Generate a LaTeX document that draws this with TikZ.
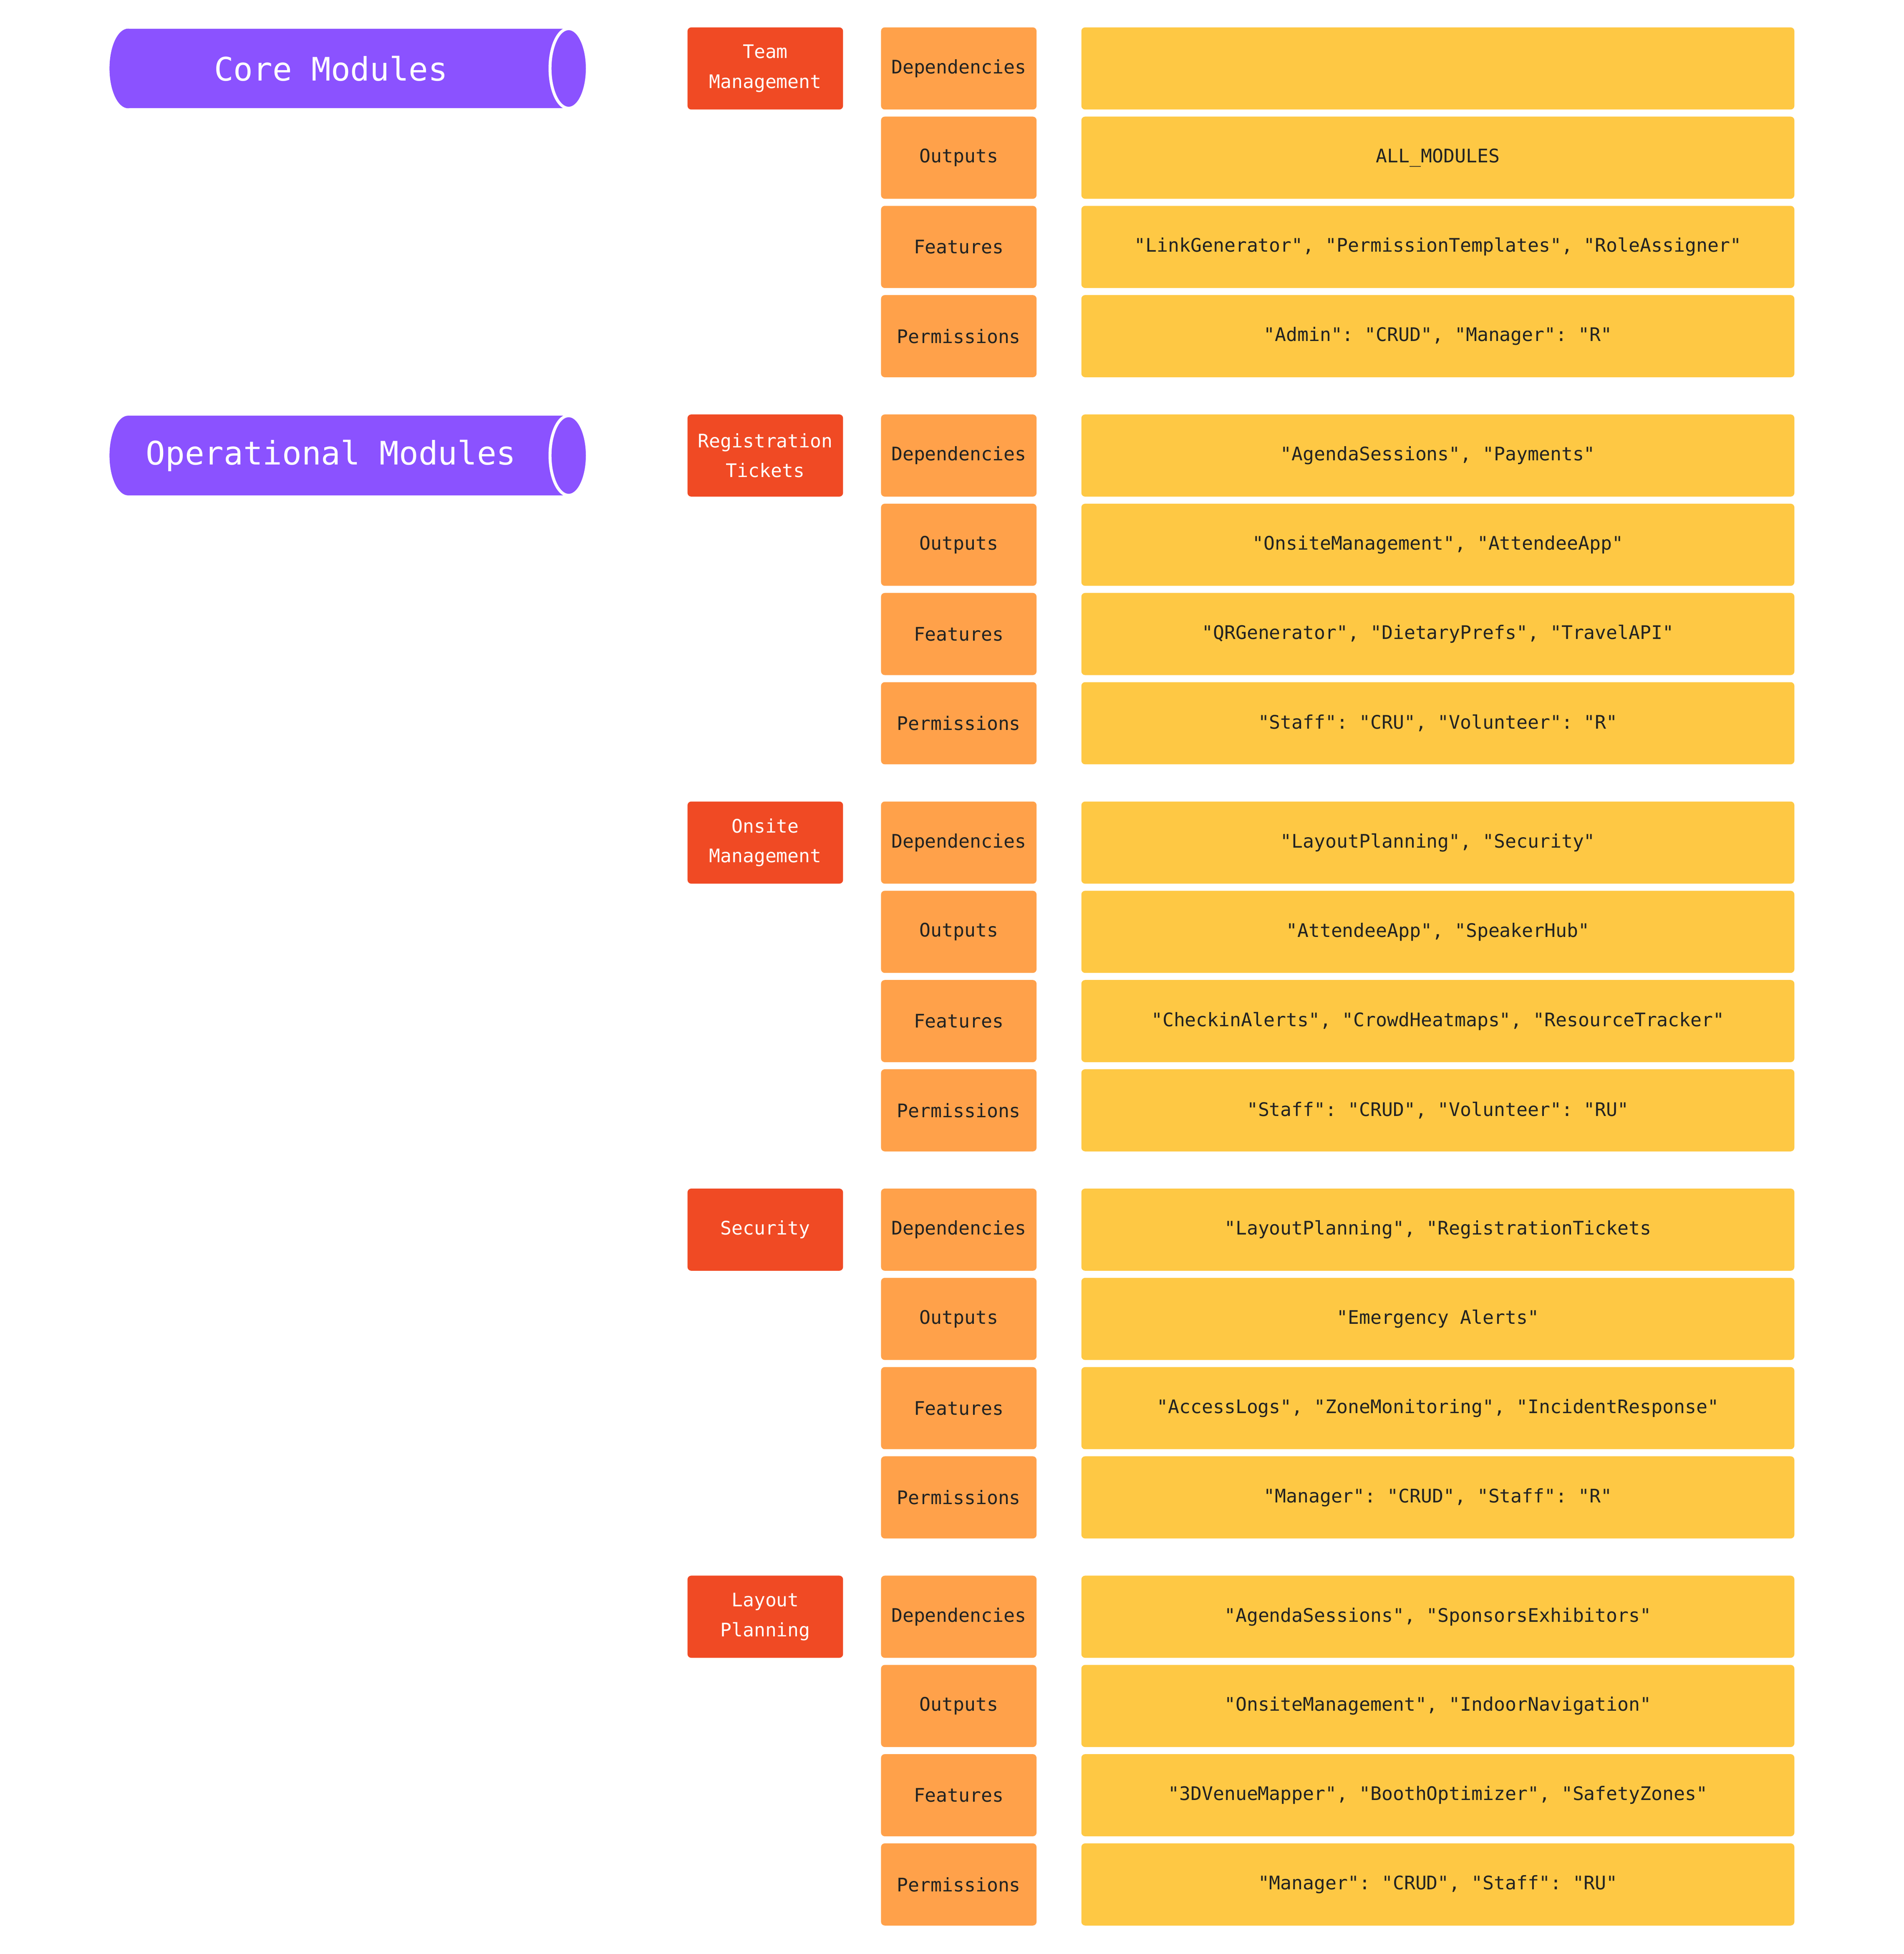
\documentclass[tikz,border=0pt]{standalone}
\usepackage{fontspec}
\setmonofont{DejaVu Sans Mono}
\begin{document}
\definecolor{purp}{HTML}{8B52FF}
\definecolor{redb}{HTML}{F04A24}
\definecolor{orab}{HTML}{FFA14A}
\definecolor{yelb}{HTML}{FEC844}
\definecolor{txt}{HTML}{222222}
\begin{tikzpicture}[x=0.5pt,y=-0.5pt,
 box/.style={rounded corners=1.5pt,inner sep=0pt,font=\ttfamily\fontsize{7.5}{12}\selectfont,align=center},
 mod/.style={box,fill=redb,text=white,minimum width=62.5pt,minimum height=33pt},
 key/.style={box,fill=orab,text=txt,minimum width=62.5pt,minimum height=33pt},
 val/.style={box,fill=yelb,text=txt,minimum width=286.5pt,minimum height=33pt}]
\useasboundingbox (0,0) rectangle (1530,1570);
% cylinders
\foreach \n/\y/\t in {core/55/Core Modules, oper/366/Operational Modules}{
 \fill[purp] (103,\y-32) rectangle (457,\y+32);
 \fill[purp] (103,\y) ellipse[x radius=7.5pt,y radius=16pt];
 \draw[white,line width=1.2pt,fill=purp] (457,\y) ellipse[x radius=7.5pt,y radius=16pt];
 \node[text=white,font=\ttfamily\fontsize{13}{15}\selectfont] (\n) at (266,\y) {\t};
}
\foreach \g/\gy/\m/\a/\b/\c/\d in {
 0/55/{Team\\Management}/{}/{ALL\_MODULES}/{"LinkGenerator", "PermissionTemplates", "RoleAssigner"}/{"Admin": "CRUD", "Manager": "R"},
 1/366/{Registration\\Tickets}/{"AgendaSessions", "Payments"}/{"OnsiteManagement", "AttendeeApp"}/{"QRGenerator", "DietaryPrefs", "TravelAPI"}/{"Staff": "CRU", "Volunteer": "R"},
 2/677/{Onsite\\Management}/{"LayoutPlanning", "Security"}/{"AttendeeApp", "SpeakerHub"}/{"CheckinAlerts", "CrowdHeatmaps", "ResourceTracker"}/{"Staff": "CRUD", "Volunteer": "RU"},
 3/988/{Security}/{"LayoutPlanning", "RegistrationTickets}/{"Emergency Alerts"}/{"AccessLogs", "ZoneMonitoring", "IncidentResponse"}/{"Manager": "CRUD", "Staff": "R"},
 4/1299/{Layout\\Planning}/{"AgendaSessions", "SponsorsExhibitors"}/{"OnsiteManagement", "IndoorNavigation"}/{"3DVenueMapper", "BoothOptimizer", "SafetyZones"}/{"Manager": "CRUD", "Staff": "RU"}}{
 \node[mod] (m\g) at (615,\gy) {\m};
 \node[key] (k\g a) at (770.5,\gy) {Dependencies};
 \node[key] (k\g b) at (770.5,\gy+71.7) {Outputs};
 \node[key] (k\g c) at (770.5,\gy+143.4) {Features};
 \node[key] (k\g d) at (770.5,\gy+215.1) {Permissions};
 \node[val] (v\g a) at (1155.5,\gy) {\a};
 \node[val] (v\g b) at (1155.5,\gy+71.7) {\b};
 \node[val] (v\g c) at (1155.5,\gy+143.4) {\c};
 \node[val] (v\g d) at (1155.5,\gy+215.1) {\d};
}
\end{tikzpicture}
\end{document}
